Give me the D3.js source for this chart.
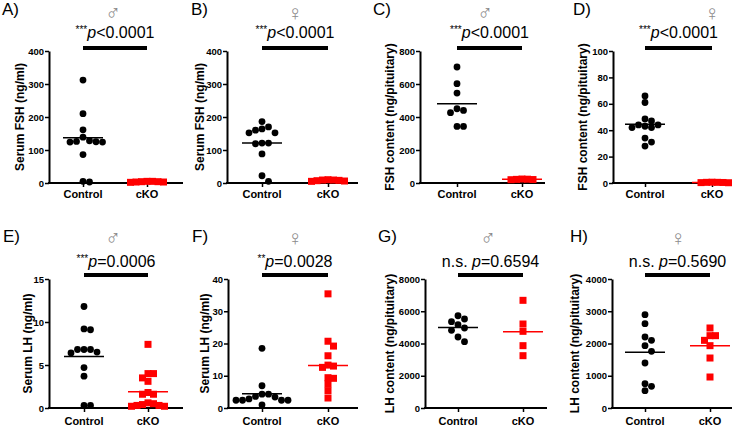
<!DOCTYPE html>
<html><head><meta charset="utf-8">
<script src="https://cdn.jsdelivr.net/npm/d3@7"></script>
<style>body{margin:0;background:#fff}text{font-family:Arial,"Liberation Sans",sans-serif}</style>
</head><body>
<svg id="c" width="745" height="427"></svg>
<script>
const categories = ["Control", "cKO"];
const panelLabels = ["A)", "B)", "C)", "D)", "E)", "F)", "G)", "H)"];
const sexSymbols = ["♂", "♀", "♂", "♀", "♂", "♀", "♂", "♀"];
const yTitles = ["Serum FSH (ng/ml)", "Serum FSH (ng/ml)", "FSH content (ng/pituitary)", "FSH content (ng/pituitary)",
                 "Serum LH (ng/ml)", "Serum LH (ng/ml)", "LH content (ng/pituitary)", "LH content (ng/pituitary)"];
const yMaxes = [400, 400, 800, 100, 15, 40, 8000, 4000];
const yTicks = [[0,100,200,300,400],[0,100,200,300,400],[0,200,400,600,800],[0,20,40,60,80,100],
                [0,5,10,15],[0,10,20,30,40],[0,2000,4000,6000,8000],[0,1000,2000,3000,4000]];
const sigStars = ["***", "***", "***", "***", "***", "**", "n.s. ", "n.s. "];
const pValues = ["<0.0001", "<0.0001", "<0.0001", "<0.0001", "=0.0006", "=0.0028", "=0.6594", "=0.5690"];

const ctrlA = [312, 210, 161, 139, 128, 126, 125, 124, 124, 86, 5, 3];
const ckoA  = [5, 4, 3, 2, 5, 4, 3];
const meanA = [137, 3];
const ctrlB = [186, 170, 164, 160, 152, 152, 121, 119, 121, 88, 22, 5];
const ckoB  = [10, 9, 8, 7, 6, 5, 9];
const meanB = [121, 7];
const ctrlC = [703, 602, 545, 450, 440, 426, 343, 343];
const ckoC  = [22, 20, 24, 21, 23];
const meanC = [481, 22];
const ctrlD = [66, 61, 48.5, 47, 44, 44, 42, 42, 43, 34, 31, 28];
const ckoD  = [0.5, 0.3, 0.6, 0.4, 0.5, 0.2];
const meanD = [44.5, 0.4];
const ctrlE = [11.8, 9.1, 9.2, 6.8, 6.8, 6.8, 6.5, 6.4, 4.7, 3.7, 0.3, 0.3];
const ckoE  = [7.4, 4.0, 4.0, 3.5, 3.1, 1.8, 1.6, 1.6, 0.6, 0.4, 0.3, 0.2, 0.2, 0.3, 0.5];
const meanE = [6.0, 1.9];
const ctrlF = [18.5, 6.9, 4.3, 4.3, 3.6, 3.4, 2.8, 2.4, 2.4, 2.4, 2.4, 1.0];
const ckoF  = [35.4, 20.7, 19.2, 16.2, 13.3, 13.0, 12.6, 9.4, 9.2, 7.5, 5.4, 3.1];
const meanF = [4.4, 13.2];
const ctrlG = [5720, 5519, 5354, 5168, 4961, 4816, 4403, 4114];
const ckoG  = [6677, 5209, 4754, 3866, 3245];
const meanG = [5000, 4734];
const ctrlH = [2894, 2615, 2202, 2098, 1933, 1757, 1395, 755, 672, 537];
const ckoH  = [2481, 2243, 2243, 2098, 1933, 1550, 961];
const meanH = [1726, 1933];

const ctrlData = [ctrlA, ctrlB, ctrlC, ctrlD, ctrlE, ctrlF, ctrlG, ctrlH];
const ckoData  = [ckoA, ckoB, ckoC, ckoD, ckoE, ckoF, ckoG, ckoH];
const meanData = [meanA, meanB, meanC, meanD, meanE, meanF, meanG, meanH];

// layout (pixel positions)
const layout = [
  {ax:49,  c0:83,  c1:147, xe:183, row:0, lx:2,   sx:113, tx:24},
  {ax:227, c0:262, c1:328, xe:358, row:0, lx:191, sx:295, tx:204},
  {ax:420, c0:457, c1:522, xe:545, row:0, lx:373, sx:485, tx:394},
  {ax:613, c0:645, c1:712, xe:732, row:0, lx:573, sx:712, tx:587},
  {ax:49,  c0:84,  c1:148, xe:183, row:1, lx:3,   sx:113, tx:32},
  {ax:228, c0:262, c1:328, xe:358, row:1, lx:192, sx:295, tx:209},
  {ax:425, c0:458, c1:523, xe:547, row:1, lx:378, sx:488, tx:394},
  {ax:612, c0:645, c1:710, xe:732, row:1, lx:570, sx:678, tx:579}
];
const rows = [
  {top:51,  bot:183, letterY:15,  sexY:19.8, pY:38,  barY:48,  catY:198},
  {top:279, bot:408, letterY:242, sexY:245,  pY:267, barY:275, catY:425}
];

const svg = d3.select("#c");
const RED = "#ff0000";

function swarm(values, y, step, dist) {
  const sorted = values.map((v, i) => ({v, i})).sort((a, b) => b.v - a.v);
  const placed = [];
  sorted.forEach(d => {
    const py = y(d.v);
    for (let k = 0; k < 40; k++) {
      const off = k === 0 ? 0 : (k % 2 ? 1 : -1) * Math.ceil(k / 2) * step;
      const ok = placed.every(p => Math.hypot(p.dx - off, p.py - py) >= dist);
      if (ok) { placed.push({v: d.v, py, dx: off}); break; }
    }
  });
  return placed;
}

layout.forEach((L, i) => {
  const R = rows[L.row];
  const g = svg.append("g");
  const y = d3.scaleLinear().domain([0, yMaxes[i]]).range([R.bot, R.top]);
  const x = d3.scalePoint().domain(categories).range([L.c0, L.c1]);

  // y axis
  const yAxis = d3.axisLeft(y).tickValues(yTicks[i]).tickSize(4).tickPadding(1).tickSizeOuter(0).tickFormat(d3.format("d"));
  const ya = g.append("g").attr("transform", `translate(${L.ax},0)`).call(yAxis);
  ya.select(".domain").attr("stroke-width", 2).attr("stroke", "#000");
  ya.selectAll(".tick line").attr("stroke-width", 1.5).attr("stroke", "#000");
  ya.selectAll(".tick text").attr("font-size", "9.5px").attr("font-weight", "bold").attr("fill", "#000")
    .attr("font-family", "Arial, 'Liberation Sans', sans-serif");

  // x axis
  const xAxis = d3.axisBottom(x).tickSize(4).tickSizeOuter(0).tickFormat("");
  const xa = g.append("g").attr("transform", `translate(0,${R.bot})`).call(xAxis);
  xa.select(".domain").remove();
  xa.selectAll(".tick line").attr("stroke-width", 1.5).attr("stroke", "#000");
  g.append("line").attr("x1", L.ax - 1).attr("x2", L.xe).attr("y1", R.bot).attr("y2", R.bot)
    .attr("stroke", "#000").attr("stroke-width", 2);
  g.selectAll(".cat").data(categories).enter().append("text")
    .attr("x", d => x(d)).attr("y", R.catY).attr("text-anchor", "middle")
    .attr("font-size", "11px").attr("font-weight", "bold").text(d => d);

  // y title
  g.append("text").attr("transform", `translate(${L.tx},${(R.top + R.bot) / 2}) rotate(-90)`)
    .attr("text-anchor", "middle").attr("font-size", "12px").attr("font-weight", "bold").text(yTitles[i]);

  // panel label & sex
  g.append("text").attr("x", L.lx).attr("y", R.letterY).attr("font-size", "17px").text(panelLabels[i]);
  g.append("text").attr("x", L.sx).attr("y", R.sexY).attr("text-anchor", "middle")
    .attr("font-size", "21px").attr("fill", "#8a8a8a").style("font-variant-emoji", "text")
    .attr("font-family", "'DejaVu Sans', 'Liberation Sans', sans-serif").text(sexSymbols[i] + "\uFE0E");

  // significance
  const pt = g.append("text").attr("x", (x(categories[0]) + x(categories[1])) / 2).attr("y", R.pY)
    .attr("text-anchor", "middle").attr("font-size", "16px");
  if (sigStars[i].startsWith("*")) {
    pt.append("tspan").attr("font-size", "10px").attr("dy", -5).text(sigStars[i]);
    pt.append("tspan").attr("font-style", "italic").attr("dy", 5).text("p");
  } else {
    pt.append("tspan").text(sigStars[i]);
    pt.append("tspan").attr("font-style", "italic").text("p");
  }
  pt.append("tspan").text(pValues[i]);
  g.append("line").attr("x1", x(categories[0])).attr("x2", x(categories[1]))
    .attr("y1", R.barY).attr("y2", R.barY).attr("stroke", "#000").attr("stroke-width", 4);

  // control points
  const cs = swarm(ctrlData[i], y, 6.5, 6.5);
  g.selectAll(".pc").data(cs).enter().append("circle")
    .attr("cx", d => x(categories[0]) + d.dx).attr("cy", d => d.py).attr("r", 3.4).attr("fill", "#000");
  // cKO points
  const ks = swarm(ckoData[i], y, 5.5, 5.5);
  g.selectAll(".pk").data(ks).enter().append("rect")
    .attr("x", d => x(categories[1]) + d.dx - 3.5).attr("y", d => d.py - 3.5)
    .attr("width", 7).attr("height", 7).attr("fill", RED);

  // mean lines
  g.selectAll(".mean").data(meanData[i]).enter().append("line")
    .attr("x1", (d, j) => x(categories[j]) - 20).attr("x2", (d, j) => x(categories[j]) + 20)
    .attr("y1", d => y(d)).attr("y2", d => y(d))
    .attr("stroke", (d, j) => j === 0 ? "#000" : RED).attr("stroke-width", 1.5);
});
</script>
</body></html>
